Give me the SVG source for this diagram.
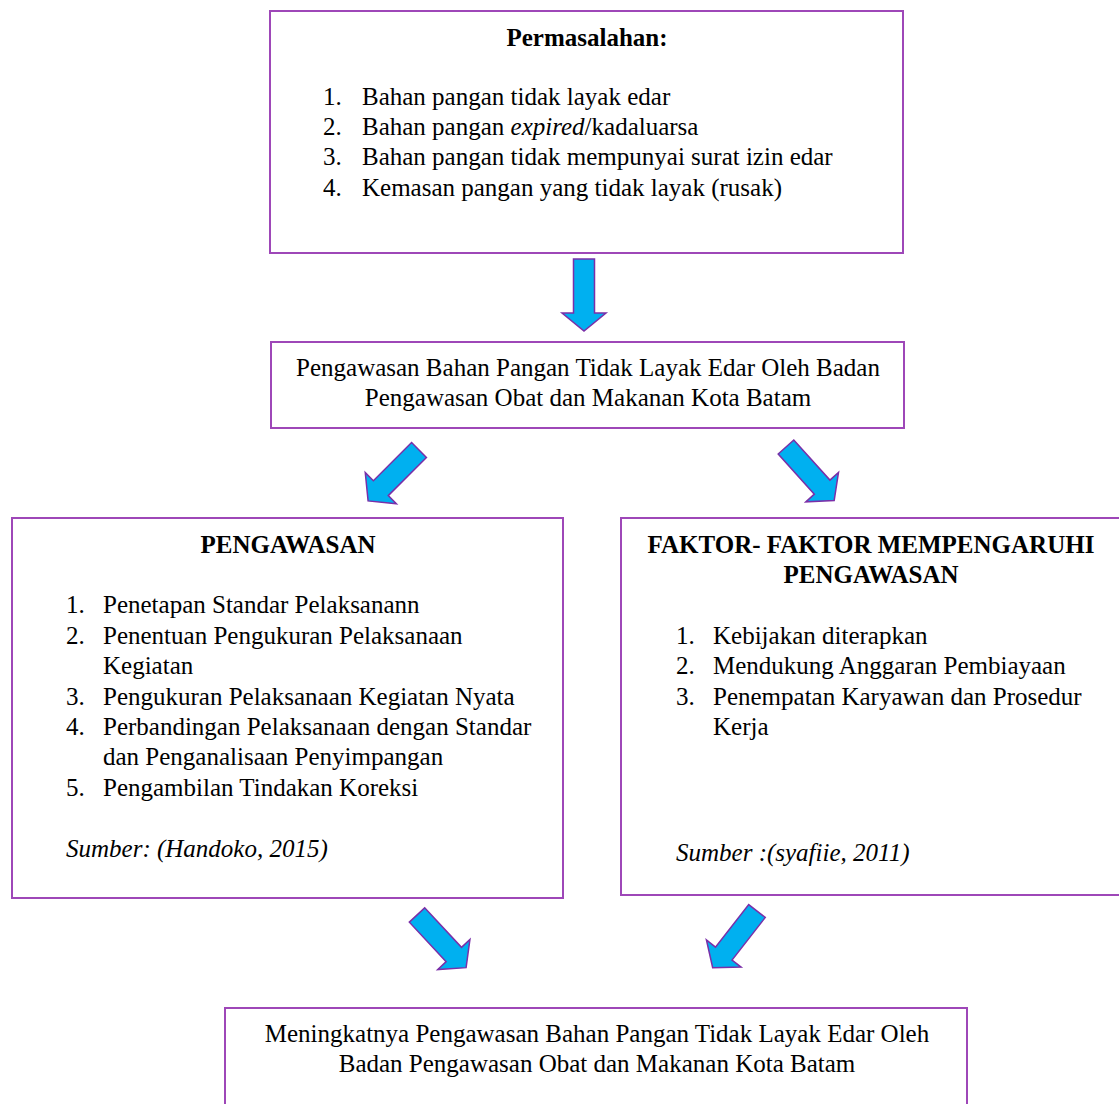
<svg xmlns="http://www.w3.org/2000/svg" width="1119" height="1104" viewBox="0 0 1119 1104">
<defs>
<style>
.box{fill:#fff;stroke:#9e47b8;stroke-width:2}
.t{font-family:"Liberation Serif","Times New Roman",serif;font-size:25px;fill:#000}
.b{font-weight:bold}
.i{font-style:italic}
.c{text-anchor:middle}
.arr{fill:#00b0f0;stroke:#7a2fa8;stroke-width:1.5;stroke-linejoin:miter}
</style>
<path id="arrow" d="M-10.5,0 L10.5,0 L10.5,54 L22,54 L0,72 L-22,54 L-10.5,54 Z"/>
</defs>
<rect x="0" y="0" width="1119" height="1104" fill="#fff"/>
<g id="node-permasalahan">
<rect class="box" x="270" y="11" width="633" height="242"/>
<text class="t b c" x="587" y="46">Permasalahan:</text>
<text class="t" x="323" y="105">1.</text><text class="t" x="362" y="105">Bahan pangan tidak layak edar</text>
<text class="t" x="323" y="135">2.</text><text class="t" x="362" y="135">Bahan pangan <tspan class="i">expired</tspan>/kadaluarsa</text>
<text class="t" x="323" y="165">3.</text><text class="t" x="362" y="165">Bahan pangan tidak mempunyai surat izin edar</text>
<text class="t" x="323" y="196">4.</text><text class="t" x="362" y="196">Kemasan pangan yang tidak layak (rusak)</text>
</g>
<g id="node-pengawasan-bpom">
<rect class="box" x="271" y="342" width="633" height="86"/>
<text class="t c" x="588" y="376">Pengawasan Bahan Pangan Tidak Layak Edar Oleh Badan</text>
<text class="t c" x="588" y="406">Pengawasan Obat dan Makanan Kota Batam</text>
</g>
<g id="node-pengawasan">
<rect class="box" x="12" y="518" width="551" height="380"/>
<text class="t b c" x="288" y="553">PENGAWASAN</text>
<text class="t" x="66" y="613">1.</text><text class="t" x="103" y="613">Penetapan Standar Pelaksanann</text>
<text class="t" x="66" y="644">2.</text><text class="t" x="103" y="644">Penentuan Pengukuran Pelaksanaan</text>
<text class="t" x="103" y="674">Kegiatan</text>
<text class="t" x="66" y="705">3.</text><text class="t" x="103" y="705">Pengukuran Pelaksanaan Kegiatan Nyata</text>
<text class="t" x="66" y="735">4.</text><text class="t" x="103" y="735">Perbandingan Pelaksanaan dengan Standar</text>
<text class="t" x="103" y="765">dan Penganalisaan Penyimpangan</text>
<text class="t" x="66" y="796">5.</text><text class="t" x="103" y="796">Pengambilan Tindakan Koreksi</text>
<text class="t i" x="66" y="857">Sumber: (Handoko, 2015)</text>
</g>
<g id="node-faktor">
<rect class="box" x="621" y="518" width="520" height="377"/>
<text class="t b c" x="871" y="553">FAKTOR- FAKTOR MEMPENGARUHI</text>
<text class="t b c" x="871" y="583">PENGAWASAN</text>
<text class="t" x="676" y="644">1.</text><text class="t" x="713" y="644">Kebijakan diterapkan</text>
<text class="t" x="676" y="674">2.</text><text class="t" x="713" y="674">Mendukung Anggaran Pembiayaan</text>
<text class="t" x="676" y="705">3.</text><text class="t" x="713" y="705">Penempatan Karyawan dan Prosedur</text>
<text class="t" x="713" y="735">Kerja</text>
<text class="t i" x="676" y="861">Sumber :(syafiie, 2011)</text>
</g>
<g id="node-hasil">
<rect class="box" x="225" y="1008" width="742" height="120"/>
<text class="t c" x="597" y="1042">Meningkatnya Pengawasan Bahan Pangan Tidak Layak Edar Oleh</text>
<text class="t c" x="597" y="1072">Badan Pengawasan Obat dan Makanan Kota Batam</text>
</g>
<g id="connectors">
<use href="#arrow" class="arr" transform="translate(584,259)"/>
<use href="#arrow" class="arr" transform="translate(419,450) rotate(45)"/>
<use href="#arrow" class="arr" transform="translate(786,447) rotate(-42)"/>
<use href="#arrow" class="arr" transform="translate(417,915) rotate(-43)"/>
<use href="#arrow" class="arr" transform="translate(757,911) rotate(38)"/>
</g>
</svg>
